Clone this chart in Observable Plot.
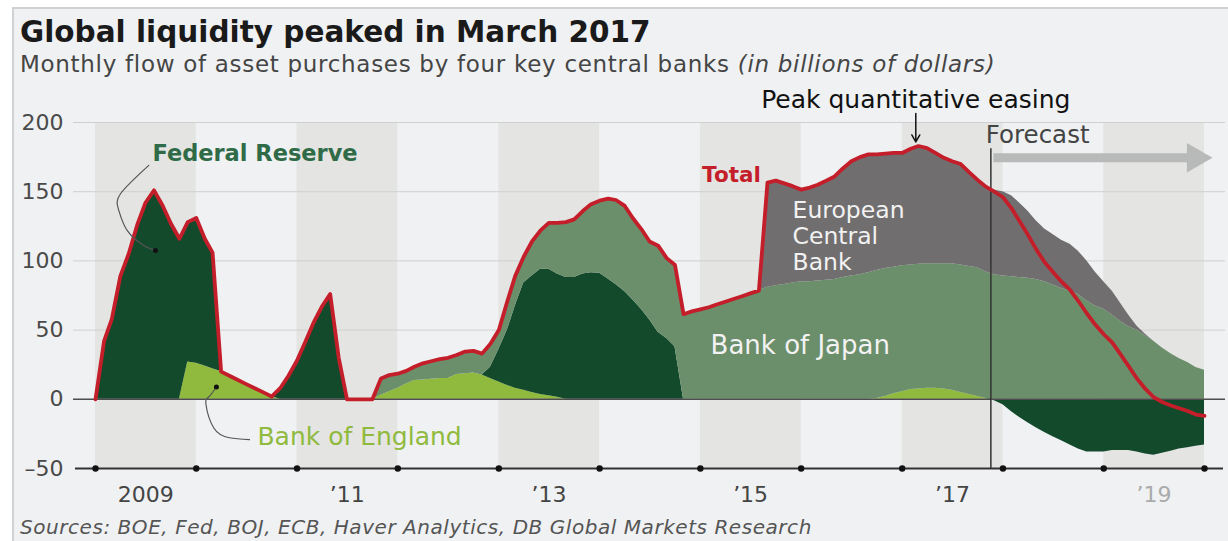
<!DOCTYPE html>
<html><head><meta charset="utf-8">
<script src="https://cdn.jsdelivr.net/npm/d3@7"></script>
<script src="https://cdn.jsdelivr.net/npm/@observablehq/plot@0.6"></script>
<style>
body{margin:0;background:#fff;font-family:"DejaVu Sans",sans-serif;}
#wrap{position:relative;width:1228px;height:541px;overflow:hidden;}
#panel{position:absolute;left:12px;top:7px;right:-4px;bottom:-4px;background:#eff1f3;border-left:2px solid #cfd1d3;border-top:2px solid #cfd1d3;}
#title{position:absolute;left:20px;top:18px;line-height:1;font-size:29.5px;font-weight:700;color:#1a1a1a;white-space:nowrap;}
#subtitle{position:absolute;left:20px;top:53px;line-height:1;font-size:23px;letter-spacing:0.7px;color:#454545;white-space:nowrap;}
#chart{position:absolute;left:0;top:80px;}
#caption{position:absolute;left:20px;top:517px;line-height:1;font-size:20px;letter-spacing:0.55px;font-style:italic;color:#555;white-space:nowrap;}
</style></head>
<body><div id="wrap"><div id="panel"></div>
<div id="title">Global liquidity peaked in March 2017</div>
<div id="subtitle">Monthly flow of asset purchases by four key central banks <i>(in billions of dollars)</i></div>
<div id="chart"></div>
<div id="caption">Sources: BOE, Fed, BOJ, ECB, Haver Analytics, DB Global Markets Research</div>
</div>
<script>
// Monthly values, Jan 2009 … Jan 2020 (133 months), billions of dollars
const seriesNames = ["Bank of England", "Federal Reserve", "Bank of Japan", "European Central Bank"];
const seriesColors = ["#8fba3e", "#134a2c", "#6b8e6b", "#716e6f"];

const boe = [0,0,0,0,0,0,0,0,0,0,0, 27,26,24,22,20,17,14,11,8,5,2,
  0,0,0,0,0,0,0,0,0,0,0,0,
  3,5.5,8,11,13.5,14,14.5,15,15,18,18.5,19,17.5,15,12.5,10,8,6.5,5,3.5,2.5,1.5,
  0,0,0,0,0,0,0,0,0,0,0,0,0,0,0,0,0,0,0,0,0,0,0,0,0,0,0,0,0,0,0,0,0,0,0,0,0,
  0.5,2,4,5.5,7,7.5,8,8,7.5,6.5,5,3.5,2,0.5,
  0,0,0,0,0,0,0,0,0,0,0,0,0,0,0,0,0,0,0,0,0,0,0,0,0,0];

const fed = [0,42,58,89,105,126,142,151,140,127,116,101,105,92,84,
  0,0,0,0,0,0,0,
  8,17,28,42,55,67,76,30,
  0,0,0,0,0,0,0,0,0,0,0,0,0,0,0,0,0,
  8,23.5,40,59,77.5,84,90.5,91.5,89,88,88,90.5,91.5,91,87,83,78,72,65,57.5,48.5,44,38,
  0,0,0,0,0,0,0,0,0,0,0,0,0,0,0,0,0,0,0,0,0,0,0,0,0,0,0,0,0,0,0,0,0,0,0,0,0,
  -1,-4,-9,-13,-17,-20.5,-24,-27,-30,-33,-36,-38,-38,-38,-37,-37,-37,-38,-39.5,-40.5,-39,-37.5,-36,-35,-34,-33];

const boj = [0,0,0,0,0,0,0,0,0,0,0,0,0,0,0,0,0,0,0,0,0,0,0,0,0,0,0,0,0,0,0,0,0,0,
  12,12,10.5,9.5,10,12,13,14,15,14,16,16,15.5,17,14,21,22,19,25,28,33.5,37,40,42,45.5,49.5,52.5,58,61,62,59,58,56.5,62.5,58,59,
  61.5,63.5,65,66.5,68.5,70.5,72.5,74.5,76.5,78.5,
  81,82,83,84,85,85,85.5,86,86.5,88,89,90,91.5,92.5,92.5,91.5,91,90,90,90,90,90.5,91.5,92,92.5,93,91.5,
  90,89,88.5,88,87.5,86.5,85,82.5,80,78,75.5,71,67.5,65,61,56.5,52.5,50,46,42,37,33,29.5,26.5,23,21];

const ecb = [0,0,0,0,0,0,0,0,0,0,0,0,0,0,0,0,0,0,0,0,0,0,0,0,0,0,0,0,0,0,0,0,0,0,0,0,0,0,0,0,
  0,0,0,0,0,0,0,0,0,0,0,0,0,0,0,0,0,0,0,0,0,0,0,0,0,0,0,0,0,0,0,0,0,0,0,0,0,0,0,0,
  75.5,76,73,70,66.5,68,69.5,72,74.5,79,83,85,85.5,84,83,82.5,81.5,84,85.5,83.5,80,76.5,74,73,68,63.5,61.5,
  61,61,58.5,54,48.5,42.5,38,36.5,35,34,31.5,29,24.5,20,17,13.5,8.5,3,1,
  0,0,0,0,0,0,0];

const months = d3.utcMonth.range(new Date(Date.UTC(2009, 0, 1)), new Date(Date.UTC(2020, 0, 2)));

// tick labels
const yTicks = [-50, 0, 50, 100, 150, 200];
const yTickLabels = ["–50", "0", "50", "100", "150", "200"];
const gridValues = [50, 100, 150, 200];
const yearLabelYears = [2009, 2011, 2013, 2015, 2017, 2019];
const yearLabels = ["2009", "’11", "’13", "’15", "’17", "’19"];
const yearLabelColors = ["#444", "#444", "#444", "#444", "#444", "#aaa"];
const shadedYears = [2009, 2011, 2013, 2015, 2017, 2019];
const axisDotYears = [2009,2010,2011,2012,2013,2014,2015,2016,2017,2018,2019,2020];

// annotations (fractional years, values)
const forecastStart = 2017.88;
const peakAt = 2017.135;
const fedLeader = [[2009.529,169],[2009.248,148.5],[2009.231,136.5],[2009.314,122],[2009.479,111.2],[2009.595,107.6]];
const boeLeader = [[2010.200,8.9],[2010.124,1.7],[2010.096,-3.6],[2010.174,-20.7],[2010.329,-27.8],[2010.528,-29.2]];

const yr = f => { const y = Math.floor(f); const a = Date.UTC(y,0,1), b = Date.UTC(y+1,0,1); return new Date(a + (f-y)*(b-a)); };

const long = [];
const lists = [boe, fed, boj, ecb];
months.forEach((m, i) => seriesNames.forEach((s, k) => long.push({date: m, series: s, value: lists[k][i]})));
const totals = months.map((m, i) => ({date: m, total: boe[i] + fed[i] + boj[i] + ecb[i]}));

const font = "'DejaVu Sans', sans-serif";

const chart = Plot.plot({
  width: 1228, height: 430,
  marginLeft: 95, marginRight: 24, marginTop: 42, marginBottom: 42,
  style: {background: "transparent", fontFamily: font, overflow: "visible"},
  x: {type: "utc", domain: [new Date(Date.UTC(2009,0,1)), new Date(Date.UTC(2020,0,1))], axis: null},
  y: {domain: [-50, 200], axis: null},
  color: {domain: seriesNames, range: seriesColors},
  marks: [
    Plot.rect(shadedYears, {x1: d => new Date(Date.UTC(d,0,1)), x2: d => new Date(Date.UTC(d+1,0,1)), y1: -50, y2: 200, fill: "#e4e4e2"}),
    Plot.ruleY(gridValues, {stroke: "#cfd0d0", strokeWidth: 1, insetLeft: -22, insetRight: -21}),
    Plot.areaY(long, Plot.stackY({x: "date", y: "value", z: "series", fill: "series", order: seriesNames})),
    Plot.ruleY([0], {stroke: "#4d4d4d", strokeWidth: 1.5, insetLeft: -22, insetRight: -21}),
    Plot.ruleX([yr(forecastStart)], {y1: -50, y2: 181, stroke: "#333", strokeWidth: 1.5}),
    Plot.lineY(totals, {x: "date", y: "total", stroke: "#c41e2a", strokeWidth: 3.8, strokeLinejoin: "round"}),
    Plot.ruleY([-50], {stroke: "#333", strokeWidth: 2, insetLeft: -20, insetRight: -19}),
    Plot.dot(axisDotYears, {x: d => new Date(Date.UTC(d,0,1)), y: -50, r: 3.2, fill: "#111"}),
    Plot.text(yTicks, {x: new Date(Date.UTC(2009,0,1)), y: d => d, text: (d, i) => yTickLabels[i], dx: -32, textAnchor: "end", fontSize: 22, fill: "#4a4a4a"}),
    Plot.text(yearLabelYears, {x: d => new Date(Date.UTC(d,6,2)), y: -50, dy: 26, text: (d, i) => yearLabels[i], fill: (d, i) => yearLabelColors[i], fontSize: 22}),
    // Forecast arrow
    Plot.ruleY([174.5], {x1: yr(forecastStart + 0.03), x2: yr(2019.86), stroke: "#b8b9b9", strokeWidth: 9}),
    Plot.dot([174.5], {x: yr(2019.91), y: d => d, symbol: "triangle", rotate: 90, r: 11, fill: "#b8b9b9"}),
    Plot.text(["Forecast"], {x: yr(forecastStart - 0.05), y: 190.5, textAnchor: "start", fontSize: 24.5, fill: "#444"}),
    // Peak QE
    Plot.text(["Peak quantitative easing"], {x: yr(peakAt), y: 216, fontSize: 25, fill: "#111"}),
    Plot.arrow([0], {x1: yr(peakAt), x2: yr(peakAt), y1: 206.5, y2: 186, stroke: "#111", strokeWidth: 1.5, headLength: 8}),
    // Series labels
    Plot.text(["Total"], {x: yr(2015.6), y: 161.7, textAnchor: "end", fontSize: 21.5, fontWeight: 700, fill: "#c41e2a"}),
    Plot.text(["Federal Reserve"], {x: yr(2009.565), y: 177.6, textAnchor: "start", fontSize: 22.5, fontWeight: 700, fill: "#2f6b47"}),
    Plot.text(["European\nCentral\nBank"], {x: yr(2015.915), y: 118.4, textAnchor: "start", lineHeight: 1.1, fontSize: 23.5, fill: "#f2f2f2"}),
    Plot.text(["Bank of Japan"], {x: yr(2015.101), y: 39, textAnchor: "start", fontSize: 26, fill: "#f2f2f2"}),
    Plot.text(["Bank of England"], {x: yr(2010.607), y: -27.4, textAnchor: "start", fontSize: 25, fill: "#8fba3e"}),
    // leaders
    Plot.line(fedLeader, {x: d => yr(d[0]), y: d => d[1], curve: "natural", stroke: "#555", strokeWidth: 1.2}),
    Plot.dot([fedLeader[fedLeader.length-1]], {x: d => yr(d[0]), y: d => d[1], r: 2.5, fill: "#111"}),
    Plot.line(boeLeader, {x: d => yr(d[0]), y: d => d[1], curve: "natural", stroke: "#555", strokeWidth: 1.2}),
    Plot.dot([boeLeader[0]], {x: d => yr(d[0]), y: d => d[1], r: 2.5, fill: "#111"})
  ]
});
document.getElementById("chart").appendChild(chart);
</script>
</body></html>
